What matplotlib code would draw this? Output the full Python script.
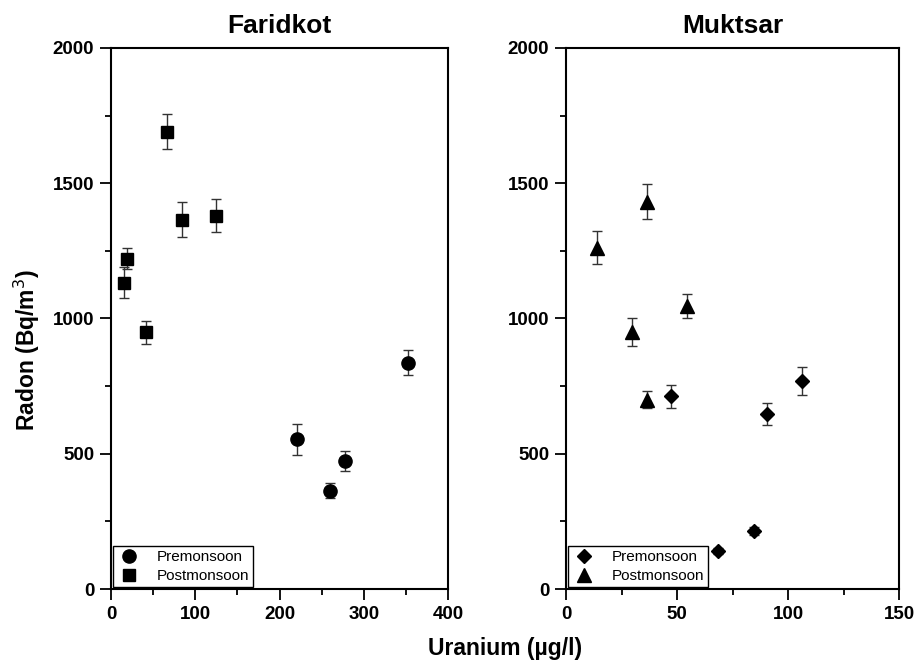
import matplotlib
matplotlib.use("Agg")
import matplotlib.pyplot as plt
from matplotlib.lines import Line2D
from matplotlib.ticker import MultipleLocator

plt.rcParams['font.family'] = ['Liberation Sans', 'DejaVu Sans']

# Faridkot
far_pre_u = [221, 259.9, 277.4, 353]
far_pre_rn = [553, 364, 473, 837]
far_pre_err = [56, 29, 38, 45]
far_post_u = [15.9, 19, 41.3, 66.3, 83.7, 124.6]
far_post_rn = [1132, 1221, 949, 1690, 1365, 1380]
far_post_err = [57, 38, 42, 65, 65, 62]

# Muktsar
muk_pre_u = [47.4, 68.3, 84.8, 90.4, 106.2]
muk_pre_rn = [712, 141, 214, 647, 769]
muk_pre_err = [42, 12, 15, 42, 52]
muk_post_u = [14.1, 29.9, 36.6, 36.6, 54.6]
muk_post_rn = [1262, 950, 1432, 700, 1046]
muk_post_err = [62, 53, 65, 32, 43]

titles = ["Faridkot", "Muktsar"]
legend_labels = ["Premonsoon", "Postmonsoon"]

fig = plt.figure(figsize=(9.15, 6.65), dpi=100)
ax1 = fig.add_axes([111/915, 76/665, 337/915, 541/665])
ax2 = fig.add_axes([566/915, 76/665, 333/915, 541/665])

eb = dict(color='black', ecolor='#333333', elinewidth=1.0, capsize=3.5,
          capthick=1.0, linestyle='none', zorder=3)

ax1.errorbar(far_pre_u, far_pre_rn, yerr=far_pre_err, fmt='o', ms=9.5, **eb)
ax1.errorbar(far_post_u, far_post_rn, yerr=far_post_err, fmt='s', ms=8.5, **eb)
ax2.errorbar(muk_pre_u, muk_pre_rn, yerr=muk_pre_err, fmt='D', ms=7.2, **eb)
ax2.errorbar(muk_post_u, muk_post_rn, yerr=muk_post_err, fmt='^', ms=10.5, **eb)

ax1.set_xlim(0, 400)
ax2.set_xlim(0, 150)
ax1.xaxis.set_major_locator(MultipleLocator(100))
ax1.xaxis.set_minor_locator(MultipleLocator(50))
ax2.xaxis.set_major_locator(MultipleLocator(50))
ax2.xaxis.set_minor_locator(MultipleLocator(25))

sizes = {'o': 9.5, 's': 8.5, 'D': 7.2, '^': 10.5}

for ax, title, markers in [(ax1, titles[0], ['o', 's']), (ax2, titles[1], ['D', '^'])]:
    ax.set_ylim(0, 2000)
    ax.yaxis.set_major_locator(MultipleLocator(500))
    ax.yaxis.set_minor_locator(MultipleLocator(250))
    ax.tick_params(which='major', direction='out', length=8, width=1.3,
                   labelsize=13.5, pad=4)
    ax.tick_params(which='minor', direction='out', length=4.5, width=1.3)
    for lab in ax.get_xticklabels() + ax.get_yticklabels():
        lab.set_fontweight('bold')
    for sp in ax.spines.values():
        sp.set_linewidth(1.5)
    ax.set_title(title, fontsize=19, fontweight='bold', pad=11)
    handles = [Line2D([], [], marker=m, color='black', linestyle='none',
                      ms=sizes[m]) for m in markers]
    leg = ax.legend(handles, legend_labels, loc='lower left',
                    bbox_to_anchor=(0.0, 0.0), borderaxespad=0.15,
                    fontsize=11, frameon=True, fancybox=False,
                    handletextpad=1.0, handlelength=1.6, labelspacing=0.3,
                    borderpad=0.25)
    fr = leg.get_frame()
    fr.set_edgecolor('black')
    fr.set_linewidth(1.0)
    fr.set_alpha(1)

fig.text(27/915, 1 - 350/665, "Radon (Bq/m$^3$)", rotation=90,
         ha='center', va='center', fontsize=16.5, fontweight='bold')
fig.text(505/915, 1 - 648/665, "Uranium (\u00b5g/l)", ha='center',
         va='center', fontsize=16.5, fontweight='bold')

fig.savefig("out.png", dpi=100)
